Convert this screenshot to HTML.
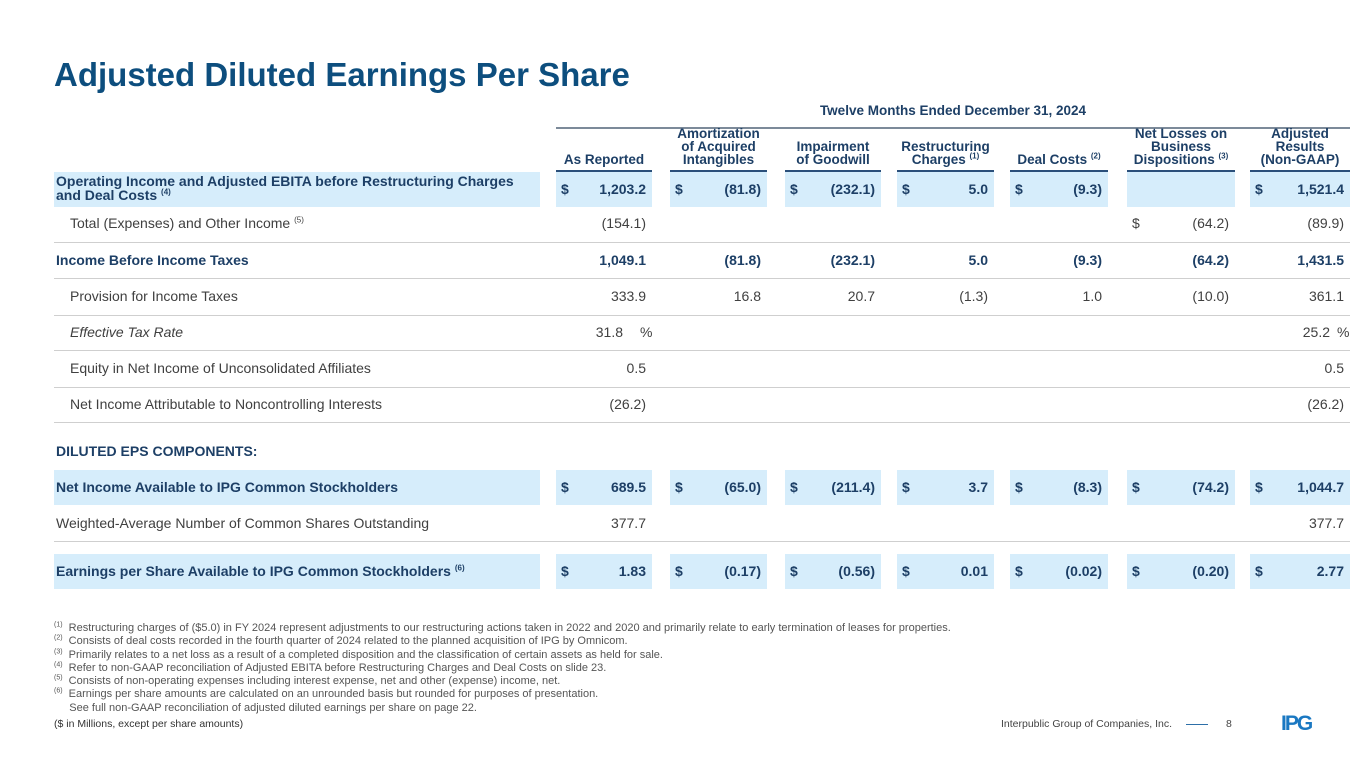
<!DOCTYPE html>
<html><head><meta charset="utf-8"><style>
body{margin:0;width:1365px;height:768px;background:#fff;font-family:"Liberation Sans",sans-serif;position:relative;overflow:hidden}
.a{position:absolute;white-space:nowrap}
sup{line-height:0}
.t{position:absolute;left:54px;top:56px;font-size:33px;font-weight:bold;color:#0d4e7e}
.h{position:absolute;font-size:13.5px;font-weight:bold;color:#1d3f66;text-align:center;line-height:13px}
.lbl{position:absolute;font-size:14px;color:#404040;line-height:16px;white-space:nowrap}
.b{font-weight:bold;color:#1d3f66}
.sh{position:absolute;background:#d6edfb}
.ln{position:absolute;height:1px;background:#cfcfcf}
.fn{position:absolute;left:54px;font-size:11px;color:#555;white-space:nowrap}
.fn sup{font-size:7px}
</style></head><body>
<div class="t">Adjusted Diluted Earnings Per Share</div>
<div class="a" style="left:556px;width:794px;top:103px;text-align:center;font-size:13.5px;font-weight:bold;color:#1d3f66">Twelve Months Ended December 31, 2024</div>
<div class="a" style="left:556px;width:794px;top:127px;height:2px;background:#7c8a99"></div>
<div id="tbl"></div>
<div class="fn" style="top:622px;line-height:13.3px">
<sup>(1)</sup>&nbsp; Restructuring charges of ($5.0) in FY 2024 represent adjustments to our restructuring actions taken in 2022 and 2020 and primarily relate to early termination of leases for properties.<br>
<sup>(2)</sup>&nbsp; Consists of deal costs recorded in the fourth quarter of 2024 related to the planned acquisition of IPG by Omnicom.<br>
<sup>(3)</sup>&nbsp; Primarily relates to a net loss as a result of a completed disposition and the classification of certain assets as held for sale.<br>
<sup>(4)</sup>&nbsp; Refer to non-GAAP reconciliation of Adjusted EBITA before Restructuring Charges and Deal Costs on slide 23.<br>
<sup>(5)</sup>&nbsp; Consists of non-operating expenses including interest expense, net and other (expense) income, net.<br>
<sup>(6)</sup>&nbsp; Earnings per share amounts are calculated on an unrounded basis but rounded for purposes of presentation.<br>
&nbsp;&nbsp;&nbsp;&nbsp;&nbsp;See full non-GAAP reconciliation of adjusted diluted earnings per share on page 22.</div>
<div class="fn" style="top:718px;font-size:10.5px;color:#333">($ in Millions, except per share amounts)</div>
<div class="a" style="right:193px;top:718px;font-size:10.5px;color:#444">Interpublic Group of Companies, Inc.</div>
<div class="a" style="left:1186px;top:724px;width:22px;height:1px;background:#2d6fa8"></div>
<div class="a" style="left:1226px;top:718px;font-size:10.5px;color:#444">8</div>
<div class="a" style="left:1281px;top:712px;font-size:21px;font-weight:bold;color:#1a78c2;letter-spacing:-2px">IPG</div>
<script>
const headers=[["As Reported"],["Amortization","of Acquired","Intangibles"],["Impairment","of Goodwill"],["Restructuring","Charges <sup style='font-size:8px'>(1)</sup>"],["Deal Costs <sup style='font-size:8px'>(2)</sup>"],["Net Losses on","Business","Dispositions <sup style='font-size:8px'>(3)</sup>"],["Adjusted","Results","(Non-GAAP)"]];
const colL=[556,670,785,897,1010,1127,1250];
const colR=[652,767,881,994,1108,1235,1350];
const rowLabels=["Operating Income and Adjusted EBITA before Restructuring Charges|and Deal Costs <sup style='font-size:8px'>(4)</sup>","Total (Expenses) and Other Income <sup style='font-size:8px'>(5)</sup>","Income Before Income Taxes","Provision for Income Taxes","Effective Tax Rate","Equity in Net Income of Unconsolidated Affiliates","Net Income Attributable to Noncontrolling Interests","DILUTED EPS COMPONENTS:","Net Income Available to IPG Common Stockholders","Weighted-Average Number of Common Shares Outstanding","Earnings per Share Available to IPG Common Stockholders <sup style='font-size:8px'>(6)</sup>"];
const rowValues=[
["1,203.2","(81.8)","(232.1)","5.0","(9.3)","","1,521.4"],
["(154.1)","","","","","(64.2)","(89.9)"],
["1,049.1","(81.8)","(232.1)","5.0","(9.3)","(64.2)","1,431.5"],
["333.9","16.8","20.7","(1.3)","1.0","(10.0)","361.1"],
["31.8","","","","","","25.2"],
["0.5","","","","","","0.5"],
["(26.2)","","","","","","(26.2)"],
["","","","","","",""],
["689.5","(65.0)","(211.4)","3.7","(8.3)","(74.2)","1,044.7"],
["377.7","","","","","","377.7"],
["1.83","(0.17)","(0.56)","0.01","(0.02)","(0.20)","2.77"]];
const rowY=[189,223,260,296,332,368,404,451,487,523,571];
const rowStyle=["shade","indent","bold","indent","italic","indent","indent","bold","shade","plain","shade"];
const dollarCells=[[0,1,2,3,4,6],[5],[],[],[],[],[],[],[0,1,2,3,4,5,6],[],[0,1,2,3,4,5,6]];
const lines=[242,278,315,350,387,422,541];
const T=document.getElementById('tbl');
function mk(cls,css,html){const d=document.createElement('div');d.className=cls;d.style.cssText=css;if(html!==undefined)d.innerHTML=html;T.appendChild(d);return d;}
headers.forEach((h,i)=>{
 const n=h.length;
 const d=mk('h',`left:${colL[i]-6}px;width:${colR[i]-colL[i]+12}px;top:${166-n*13}px`,h.join('<br>'));
 
 
 const u=mk('a',`left:${colL[i]}px;width:${colR[i]-colL[i]}px;top:170px;height:2px;background:#2b4f7a`);
 
 
});
lines.forEach((y,i)=>{
 const l=mk('ln',`left:54px;width:1296px;top:${y}px`);
 
 
});
rowLabels.forEach((lab,r)=>{
 const st=rowStyle[r];const y=rowY[r];
 const shade=st==='shade';
 if(shade){
  const s=mk('sh',`left:54px;width:486px;top:${y-17}px;height:35px`);
  
  
  colL.forEach((x,i)=>{const c=mk('sh',`left:${x}px;width:${colR[i]-x}px;top:${y-17}px;height:35px`);
   
   });
 }
 const bold=shade||st==='bold';
 const two=lab.includes('|');
 const d=mk('lbl'+(bold?' b':''),`left:${st==='indent'||st==='italic'?70:56}px;top:${two?y-15:y-8}px;line-height:${two?'14px':'16px'};${st==='italic'?'font-style:italic;':''}`,lab.replace('|','<br>'));
 
 
 rowValues[r].forEach((v,i)=>{
  if(dollarCells[r].includes(i)){
   const ds=mk('lbl'+(bold?' b':''),`left:${colL[i]+5}px;top:${y-8}px`,'$');
   
   
  }
  if(!v)return;
  const pct=st==='italic';
  const right=pct?colR[i]+(i===6?-20:-29):colR[i]-6;
  const vd=mk('lbl'+(bold?' b':''),`right:${1365-right}px;top:${y-8}px`,v);
  
  
  if(pct){const p=mk('lbl',`left:${right+(i===6?7:17)}px;top:${y-8}px`,'%');
   
   }
 });
});
</script>
</body></html>
